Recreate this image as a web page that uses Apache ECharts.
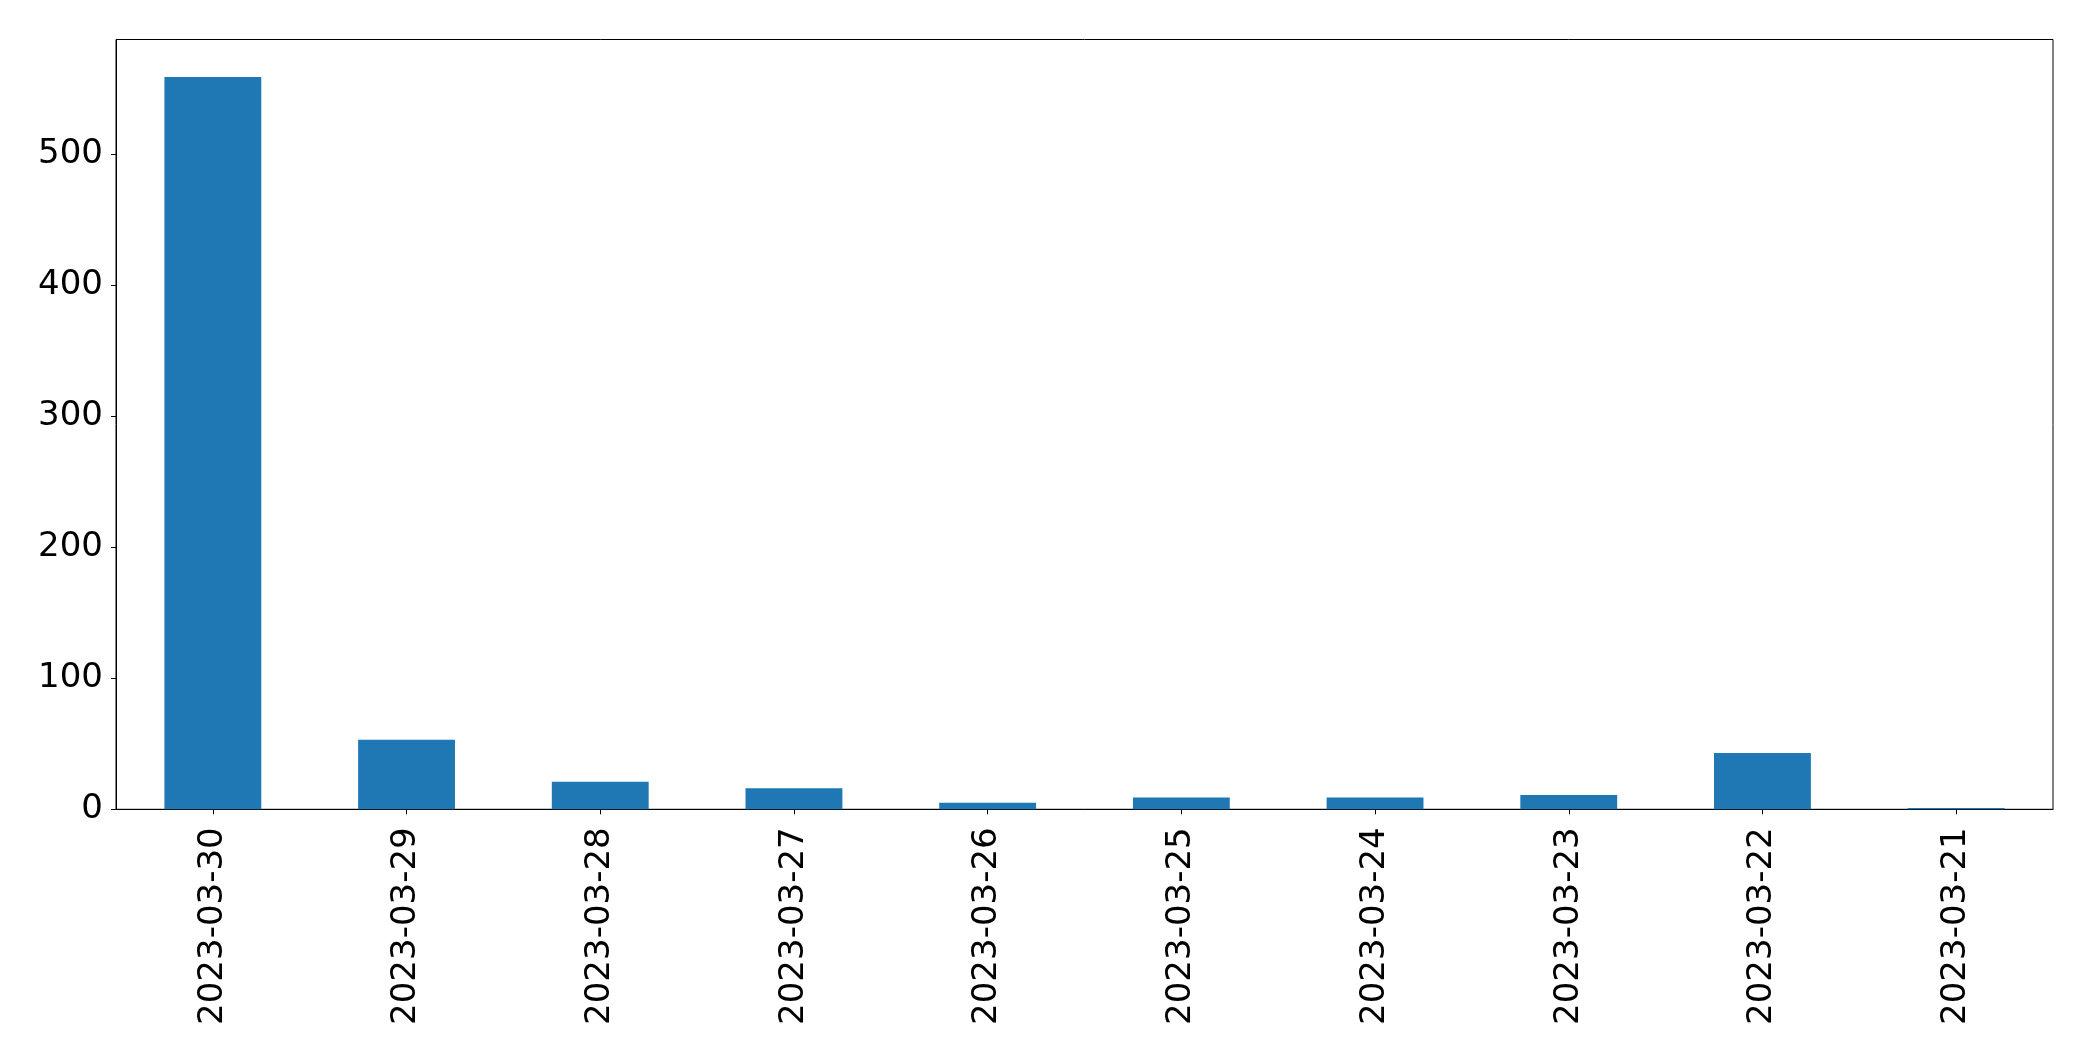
<!DOCTYPE html>
<html>
<head>
<meta charset="utf-8">
<script src="https://cdn.jsdelivr.net/npm/echarts@6/dist/echarts.min.js"></script>
<style>
html,body{margin:0;padding:0;background:#fff;}
#chart{width:2093px;height:1061px;}
</style>
</head>
<body>
<div id="chart"></div>
<script>
const categories = ['2023-03-30','2023-03-29','2023-03-28','2023-03-27','2023-03-26','2023-03-25','2023-03-24','2023-03-23','2023-03-22','2023-03-21'];
const values = [559, 53, 21, 16, 5, 9, 9, 11, 43, 1];
const yTicks = [0, 100, 200, 300, 400, 500];
const yMax = 587.6;

const chart = echarts.init(document.getElementById('chart'), null, {renderer: 'canvas'});
const font = 'DejaVu Sans';
chart.setOption({
  animation: false,
  backgroundColor: '#ffffff',
  grid: {
    left: 116, right: 40, top: 39.5, bottom: 251.7,
    show: true, borderColor: '#000', borderWidth: 1, backgroundColor: 'transparent'
  },
  xAxis: {
    type: 'category',
    data: categories,
    boundaryGap: true,
    axisLine: {show: true, lineStyle: {color: '#000', width: 1}},
    axisTick: {show: true, alignWithLabel: true, length: 5, lineStyle: {color: '#000', width: 1}},
    axisLabel: {rotate: 90, margin: 18, color: '#000', fontSize: 34, fontFamily: font, interval: 0},
    splitLine: {show: false}
  },
  yAxis: {
    type: 'value',
    min: 0, max: yMax,
    axisLine: {show: true, lineStyle: {color: '#000', width: 1}},
    axisTick: {show: true, length: 5, lineStyle: {color: '#000', width: 1}, customValues: yTicks},
    axisLabel: {margin: 13, color: '#000', fontSize: 34, fontFamily: font, customValues: yTicks},
    splitLine: {show: false}
  },
  series: [{
    type: 'bar',
    data: values,
    barWidth: '50%',
    itemStyle: {color: '#1f77b4'}
  }]
});
</script>
</body>
</html>
